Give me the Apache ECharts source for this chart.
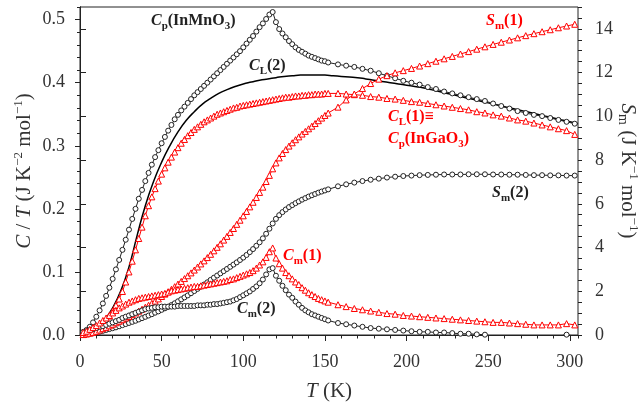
<!DOCTYPE html>
<html>
<head>
<meta charset="utf-8">
<script src="https://cdn.jsdelivr.net/npm/echarts@6/dist/echarts.min.js"></script>
<style>
html,body{margin:0;padding:0;background:#fff;}
#heat{width:643px;height:408px;}
</style>
</head>
<body>
<div id="heat"></div>
<script>
// temperatures (K): dense part measured every ~2 K, sparse part every 5 K
var tDense = [2,4,6,8,10,12,14,16,18,20,
	22,24,26,28,30,32,34,36,38,40,
	42,44,46,48,50,52,54,56,58,60,
	62,64,66,68,70,72,74,76,78,80,
	82,84,86,88,90,92,94,96,98,100,
	102,104,106,108,110,112,114,116,118,120,
	122,124,126,128,130,132,134,136,138,140,
	142,144,146,148,150,152];
var tSparse = [158,163,168,173,178,183,188,193,198,203,
	208,213,218,223,228,233,238,243,248,253,
	258,263,268,273,278,283,288,293,298,303];
var tLine = [0,5,10,15,20,25,30,35,40,45,
	50,55,60,65,70,75,80,85,90,95,
	100,105,110,115,120,125,130,135,140,145,
	150,155,160,165,170,175,180,185,190,195,
	200,205,210,215,220,225,230,235,240,245,
	250,255,260,265,270,275,280,285,290,295,
	300,305];

// Cp(InMnO3), C/T
var cp2Dense = [0.004,0.008,0.013,0.020,0.029,0.039,0.050,0.062,0.075,0.089,
	0.104,0.119,0.135,0.151,0.167,0.184,0.200,0.216,0.230,0.244,
	0.257,0.270,0.282,0.293,0.304,0.314,0.324,0.333,0.342,0.349,
	0.356,0.362,0.368,0.374,0.380,0.385,0.390,0.395,0.400,0.405,
	0.410,0.415,0.420,0.425,0.430,0.435,0.440,0.445,0.450,0.456,
	0.462,0.468,0.474,0.481,0.488,0.494,0.501,0.508,0.512,0.496,
	0.485,0.478,0.472,0.466,0.461,0.456,0.452,0.449,0.446,0.443,
	0.441,0.439,0.437,0.435,0.434,0.432];
var cp2Sparse = [0.429,0.427,0.425,0.422,0.419,0.415,0.411,0.407,0.403,0.400,
	0.397,0.393,0.390,0.386,0.383,0.380,0.377,0.374,0.371,0.367,
	0.363,0.359,0.355,0.352,0.349,0.347,0.344,0.341,0.338,0.335];

// CL(2) lattice line, C/T
var cl2Line = [0,0.005,0.012,0.024,0.043,0.070,0.108,0.158,0.205,0.243,
	0.274,0.300,0.322,0.340,0.354,0.366,0.375,0.383,0.389,0.394,
	0.398,0.401,0.404,0.406,0.408,0.410,0.411,0.412,0.412,0.412,
	0.412,0.411,0.410,0.409,0.408,0.406,0.404,0.402,0.400,0.398,
	0.396,0.394,0.392,0.389,0.386,0.383,0.380,0.377,0.374,0.371,
	0.368,0.365,0.362,0.359,0.356,0.353,0.350,0.347,0.344,0.341,
	0.338,0.335];

// CL(1) = Cp(InGaO3), C/T
var cl1Dense = [0.001,0.002,0.004,0.007,0.010,0.014,0.018,0.023,0.030,0.038,
	0.047,0.057,0.069,0.084,0.100,0.117,0.135,0.153,0.171,0.189,
	0.205,0.219,0.232,0.244,0.255,0.265,0.274,0.282,0.290,0.297,
	0.304,0.310,0.316,0.321,0.326,0.330,0.334,0.338,0.341,0.344,
	0.347,0.350,0.352,0.354,0.356,0.358,0.360,0.361,0.363,0.364,
	0.365,0.366,0.367,0.368,0.369,0.370,0.371,0.372,0.373,0.374,
	0.375,0.376,0.377,0.377,0.378,0.379,0.379,0.380,0.380,0.381,
	0.381,0.382,0.382,0.382,0.383,0.383];
var cl1Sparse = [0.383,0.382,0.381,0.380,0.378,0.377,0.375,0.374,0.372,0.370,
	0.369,0.367,0.365,0.363,0.361,0.359,0.357,0.354,0.352,0.349,
	0.347,0.344,0.341,0.339,0.336,0.333,0.330,0.327,0.324,0.318];

// Sm(1), Sm(2) on right axis
var sm1Dense = [0.02,0.05,0.08,0.12,0.17,0.23,0.29,0.35,0.42,0.49,
	0.56,0.63,0.70,0.78,0.85,0.93,1.01,1.09,1.18,1.27,
	1.36,1.45,1.55,1.65,1.76,1.87,1.98,2.09,2.21,2.33,
	2.45,2.58,2.71,2.84,2.97,3.11,3.25,3.39,3.54,3.69,
	3.85,4.01,4.17,4.34,4.51,4.69,4.87,5.06,5.25,5.45,
	5.65,5.86,6.07,6.29,6.52,6.76,7.02,7.30,7.60,7.87,
	8.10,8.30,8.48,8.64,8.79,8.93,9.06,9.19,9.31,9.43,
	9.55,9.67,9.80,9.92,10.04,10.15];
var sm1Sparse = [10.42,10.75,11.02,11.27,11.50,11.70,11.86,11.99,12.09,12.19,
	12.30,12.41,12.52,12.63,12.74,12.85,12.96,13.07,13.18,13.29,
	13.39,13.49,13.59,13.69,13.78,13.87,13.96,14.05,14.13,14.21];
var sm2Dense = [0.01,0.03,0.05,0.08,0.12,0.15,0.19,0.23,0.27,0.31,
	0.35,0.40,0.45,0.50,0.55,0.60,0.65,0.71,0.77,0.83,
	0.89,0.95,1.02,1.08,1.15,1.22,1.29,1.37,1.45,1.54,
	1.63,1.72,1.81,1.91,2.01,2.11,2.21,2.31,2.41,2.52,
	2.62,2.72,2.82,2.92,3.02,3.12,3.22,3.32,3.43,3.54,
	3.66,3.79,3.93,4.08,4.24,4.42,4.63,4.86,5.10,5.31,
	5.48,5.62,5.74,5.85,5.94,6.03,6.11,6.19,6.26,6.33,
	6.39,6.45,6.51,6.56,6.61,6.66];
var sm2Sparse = [6.80,6.89,6.97,7.04,7.10,7.15,7.20,7.24,7.27,7.29,
	7.31,7.32,7.33,7.34,7.34,7.34,7.35,7.35,7.35,7.34,
	7.34,7.33,7.33,7.32,7.31,7.31,7.30,7.30,7.29,7.29];

// Cm(1), Cm(2), C/T
var cm1Dense = [0.004,0.006,0.009,0.012,0.015,0.019,0.023,0.027,0.031,0.035,
	0.039,0.043,0.046,0.049,0.052,0.054,0.056,0.058,0.059,0.060,
	0.061,0.062,0.063,0.064,0.065,0.066,0.068,0.070,0.071,0.072,
	0.073,0.074,0.075,0.076,0.077,0.077,0.078,0.079,0.080,0.081,
	0.082,0.083,0.084,0.085,0.086,0.088,0.089,0.091,0.093,0.095,
	0.097,0.099,0.102,0.106,0.111,0.116,0.123,0.132,0.138,0.122,
	0.113,0.106,0.099,0.094,0.089,0.084,0.080,0.075,0.071,0.067,
	0.064,0.061,0.058,0.056,0.054,0.052];
var cm1Sparse = [0.048,0.045,0.042,0.040,0.038,0.036,0.034,0.033,0.031,0.030,
	0.029,0.028,0.027,0.026,0.025,0.024,0.023,0.022,0.021,0.020,
	0.020,0.019,0.018,0.017,0.016,0.016,0.016,0.016,0.018,0.016];
var cm2Dense = [0.005,0.006,0.008,0.009,0.011,0.013,0.014,0.016,0.018,0.020,
	0.022,0.024,0.027,0.029,0.031,0.033,0.035,0.037,0.039,0.041,
	0.042,0.043,0.044,0.044,0.045,0.045,0.045,0.045,0.045,0.046,
	0.046,0.046,0.046,0.046,0.046,0.047,0.047,0.047,0.048,0.048,
	0.049,0.049,0.050,0.051,0.052,0.053,0.055,0.057,0.060,0.063,
	0.066,0.069,0.073,0.077,0.082,0.088,0.096,0.104,0.106,0.094,
	0.086,0.078,0.071,0.064,0.059,0.053,0.048,0.043,0.039,0.036,
	0.033,0.031,0.029,0.027,0.025,0.023];
var cm2Sparse = [0.019,0.017,0.015,0.013,0.011,0.010,0.009,0.008,0.007,0.006,
	0.005,0.005,0.004,0.004,0.003,0.002,0.002,0.001,0.0005,-0.002,
	-0.003,-0.004,-0.005,-0.005,-0.005,-0.004,-0.003,-0.002,0.0005,-0.002];

var SERIF = '"Liberation Serif", "Times New Roman", serif';
var RED = '#ff0000', BLACK = '#222';

function pairs(ts, vs) {
	var out = [];
	for (var i = 0; i < ts.length; i++) out.push([ts[i], vs[i]]);
	return out;
}
function joined(d, s) {
	return pairs(tDense, d).concat(pairs(tSparse, s));
}
function markers(name, color, symbol, size, yIdx, data) {
	return {
		name: name, type: 'line', yAxisIndex: yIdx, data: data,
		symbol: symbol, symbolSize: size, showAllSymbol: true,
		lineStyle: { color: color, width: 1 },
		itemStyle: { color: '#fff', borderColor: color, borderWidth: 1 }
	};
}

// rich text pieces for axis names (echarts style) and notes (zrender style)
function axTok(size, italic, va, lh) {
	return { fontFamily: SERIF, fontSize: size, fontStyle: italic ? 'italic' : 'normal',
		color: '#333', verticalAlign: va || 'middle', lineHeight: lh || 24 };
}
var axisRich = { i: axTok(21, true), n: axTok(21, false), u: axTok(13, false, 'top', 14), s: axTok(14, false, 'bottom', 13) };

function noteTok(size, italic, color, va, lh) {
	return { fontFamily: SERIF, fontSize: size, fontWeight: 'bold', fontStyle: italic ? 'italic' : 'normal',
		fill: color, verticalAlign: va || 'middle', lineHeight: lh || 22 };
}
function noteRich(color) {
	return { i: noteTok(16, true, color), n: noteTok(16, false, color), s: noteTok(11, false, color, 'bottom', 12) };
}
var notes = [
	['{i|C}{s|p}{n|(InMnO}{s|3}{n|)}', 151, 21, BLACK],
	['{i|C}{s|L}{n|(2)}', 249, 66, BLACK],
	['{i|S}{s|m}{n|(1)}', 486, 21, RED],
	['{i|C}{s|L}{n|(1)≡}', 388, 117, RED],
	['{i|C}{s|p}{n|(InGaO}{s|3}{n|)}', 388, 139, RED],
	['{i|S}{s|m}{n|(2)}', 492, 193, BLACK],
	['{i|C}{s|m}{n|(1)}', 283, 256, RED],
	['{i|C}{s|m}{n|(2)}', 237, 309, BLACK]
];

var chart = echarts.init(document.getElementById('heat'));
var labelBase = { fontFamily: SERIF, fontSize: 18, color: '#333', showMaxLabel: false };
var lineBase = { lineStyle: { color: BLACK, width: 1 } };

var option = {
	animation: false,
	backgroundColor: '#fff',
	grid: { left: 80, right: 65, top: 7, bottom: 73, show: true, borderColor: BLACK, borderWidth: 1,
		containLabel: false, outerBoundsMode: 'none' },
	xAxis: [{
		type: 'value', position: 'bottom', min: 0, max: 305, interval: 50,
		axisLine: lineBase, axisTick: { length: 6, lineStyle: { color: BLACK } },
		axisLabel: Object.assign({ margin: 18 }, labelBase),
		splitLine: { show: false },
		name: '{i|T}{n| (K)}', nameLocation: 'middle', nameGap: 44,
		nameTextStyle: { fontFamily: SERIF, fontSize: 21, color: '#333', rich: axisRich }
	}, {
		type: 'value', position: 'bottom', min: 0, max: 305, interval: 10,
		axisLine: { show: false }, axisTick: { length: 3.5, lineStyle: { color: BLACK } },
		axisLabel: { show: false }, splitLine: { show: false }
	}],
	yAxis: [{
		type: 'value', position: 'left', min: 0, max: 0.52, interval: 0.1,
		axisLine: Object.assign({ show: true }, lineBase), axisTick: { length: 5, lineStyle: { color: BLACK } },
		axisLabel: Object.assign({ margin: 15, formatter: function (v) { return v.toFixed(1); } }, labelBase),
		splitLine: { show: false },
		name: '{i|C}{n| / }{i|T}{n| (J K}{u|−2}{n| mol}{u|−1}{n|)}',
		nameLocation: 'middle', nameGap: 44, nameRotate: 90, nameMoveOverlap: false,
		nameTextStyle: { fontFamily: SERIF, fontSize: 21, color: '#333', rich: axisRich }
	}, {
		type: 'value', position: 'right', min: 0, max: 15, interval: 2,
		axisLine: Object.assign({ show: true }, lineBase), axisTick: { length: 6, lineStyle: { color: BLACK } },
		axisLabel: Object.assign({ margin: 17 }, labelBase),
		splitLine: { show: false },
		name: '{i|S}{s|m}{n| (J K}{u|−1}{n| mol}{u|−1}{n|)}',
		nameLocation: 'middle', nameGap: 38, nameRotate: -90, nameMoveOverlap: false,
		nameTextStyle: { fontFamily: SERIF, fontSize: 21, color: '#333', rich: axisRich }
	}, {
		type: 'value', position: 'left', min: 0, max: 0.52, interval: 0.02,
		axisLine: { show: false }, axisTick: { show: true, length: 3, lineStyle: { color: BLACK } },
		axisLabel: { show: false }, splitLine: { show: false }
	}, {
		type: 'value', position: 'right', min: 0, max: 15, interval: 0.5,
		axisLine: { show: false }, axisTick: { show: true, length: 4, lineStyle: { color: BLACK } },
		axisLabel: { show: false }, splitLine: { show: false }
	}],
	series: [
		{
			name: 'CL(2)', type: 'line', yAxisIndex: 0, data: pairs(tLine, cl2Line),
			symbol: 'none', smooth: true, lineStyle: { color: '#000', width: 1.5 }
		},
		markers('Cp(InMnO3)', BLACK, 'circle', 5, 0, joined(cp2Dense, cp2Sparse)),
		markers('CL(1)', RED, 'triangle', 6, 0, joined(cl1Dense, cl1Sparse)),
		markers('Sm(2)', BLACK, 'circle', 5, 1, joined(sm2Dense, sm2Sparse)),
		markers('Sm(1)', RED, 'triangle', 6, 1, joined(sm1Dense, sm1Sparse)),
		markers('Cm(2)', BLACK, 'circle', 5, 0, joined(cm2Dense, cm2Sparse)),
		markers('Cm(1)', RED, 'triangle', 6, 0, joined(cm1Dense, cm1Sparse))
	],
	graphic: notes.map(function (n) {
		return {
			type: 'text', x: n[1], y: n[2], z: 100,
			style: { text: n[0], rich: noteRich(n[3]), align: 'left', verticalAlign: 'middle' }
		};
	})
};
chart.setOption(option);
</script>
</body>
</html>
